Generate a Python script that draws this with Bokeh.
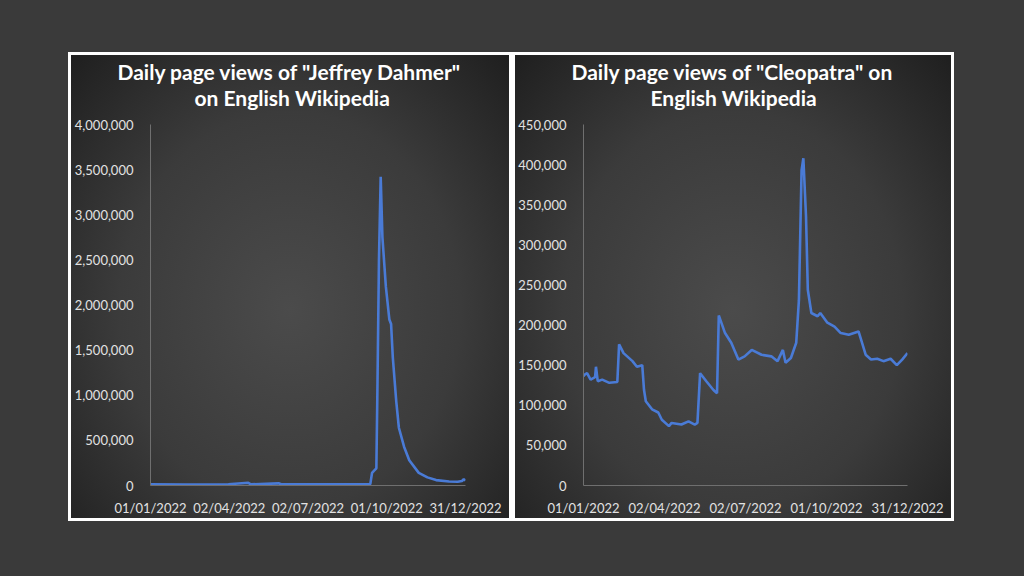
from bokeh.plotting import figure
from bokeh.layouts import row
from bokeh.models import Title, FixedTicker, Range1d, NumeralTickFormatter
from bokeh.embed import file_html
from bokeh.resources import INLINE

# ---- data (day index from 01/01/2022) ----
tick_days = [0, 91, 182, 273, 364]
tick_labels = ["01/01/2022", "02/04/2022", "02/07/2022", "01/10/2022", "31/12/2022"]

dahmer_days = [0, 40, 90, 113, 116, 148, 151, 200, 240, 254, 256, 259, 261, 262, 264, 266,
               268, 272, 276, 278, 280, 284, 287, 293, 299, 310, 320, 330, 345, 355, 360, 362, 364]
dahmer_views = [12000, 11000, 13000, 30000, 13000, 24000, 13000, 12000, 13000, 15000, 140000,
                170000, 190000, 900000, 2500000, 3420000, 2750000, 2200000, 1840000, 1790000,
                1420000, 930000, 640000, 430000, 280000, 140000, 90000, 60000, 45000, 42000,
                50000, 70000, 55000]
dahmer_yticks = [0, 500000, 1000000, 1500000, 2000000, 2500000, 3000000, 3500000, 4000000]

cleo_days = [0, 1, 4, 8, 13, 14, 16, 21, 29, 38, 40, 45, 55, 60, 66, 68, 70, 77, 84, 88, 96,
             99, 110, 118, 125, 128, 131, 138, 146, 150, 152, 159, 166, 174, 181, 189, 200,
             211, 218, 224, 227, 233, 239, 242, 245, 247, 250, 252, 256, 263, 266, 274, 282,
             289, 298, 309, 311, 317, 323, 330, 337, 345, 352, 358, 364]
cleo_views = [136000, 138000, 140000, 132000, 135000, 148000, 130000, 132000, 128000, 129000,
              176000, 165000, 155000, 148000, 150000, 119000, 105000, 95000, 91000, 82000,
              74000, 78000, 76000, 80000, 76000, 78000, 140000, 130000, 119000, 115000, 212000,
              190000, 178000, 157000, 161000, 169000, 163000, 161000, 155000, 169000, 153000,
              159000, 178000, 231000, 393000, 408000, 335000, 244000, 215000, 211000, 215000,
              203000, 198000, 190000, 188000, 192000, 185000, 163000, 157000, 158000, 155000,
              158000, 150000, 157000, 165000]
cleo_yticks = [0, 50000, 100000, 150000, 200000, 250000, 300000, 350000, 400000, 450000]

LINE = "#4a7bd6"
FONT = "Lato"


def panel(title1, title2, off1, off2, days, views, yticks, ymax, width, left, right):
    p = figure(width=width, height=463, x_range=Range1d(0, 364), y_range=Range1d(0, ymax),
               output_backend="svg", toolbar_location=None,
               min_border_left=left, min_border_right=right, min_border_top=69,
               min_border_bottom=32)
    p.background_fill_alpha = 0
    p.border_fill_alpha = 0
    p.outline_line_color = None
    p.styles = {"background": "radial-gradient(ellipse farthest-corner at 50% 55%, "
                              "#4b4b4b 0%, #3b3b3b 55%, #1f1f1f 100%)"}
    p.xgrid.visible = False
    p.ygrid.visible = False
    p.line(days, views, line_color=LINE, line_width=2.6)

    for ax in (p.xaxis[0], p.yaxis[0]):
        ax.axis_line_color = "#6f6f6f"
        ax.axis_line_width = 1
        ax.major_tick_line_color = None
        ax.minor_tick_line_color = None
        ax.major_label_text_color = "#e2e2e2"
        ax.major_label_text_font = FONT
        ax.major_label_text_font_size = "13px"
    p.xaxis[0].ticker = FixedTicker(ticks=tick_days)
    p.xaxis[0].major_label_overrides = {d: l for d, l in zip(tick_days, tick_labels)}
    p.xaxis[0].major_label_standoff = 8
    p.yaxis[0].ticker = FixedTicker(ticks=yticks)
    p.yaxis[0].formatter = NumeralTickFormatter(format="0,0")
    p.yaxis[0].major_label_standoff = 11

    # second title line first (closest to the frame), then first line
    p.add_layout(Title(text=title2, align="left", offset=off2, text_color="white",
                       text_font=FONT, text_font_style="bold", text_font_size="21px",
                       standoff=30), "above")
    p.add_layout(Title(text=title1, align="left", offset=off1, text_color="white",
                       text_font=FONT, text_font_style="bold", text_font_size="21px",
                       standoff=-32), "above")
    return p


p1 = panel('Daily page views of "Jeffrey Dahmer"', "on English Wikipedia", -33, 44,
           dahmer_days, dahmer_views, dahmer_yticks, 4000000, 438, 77, 44)
p2 = panel('Daily page views of "Cleopatra" on', "English Wikipedia", -12, 67,
           cleo_days, cleo_views, cleo_yticks, 450000, 436, 66, 44)
p1.margin = (3, 0, 3, 3)
p2.margin = (3, 3, 3, 6)

layout = row(p1, p2, margin=(52, 0, 0, 68), styles={"background-color": "white"})

html = file_html(layout, INLINE)
html = html.replace("</head>", "<style>html,body{margin:0;padding:0;background:#3a3a3a;}</style></head>", 1)
open("out.html", "w").write(html)
